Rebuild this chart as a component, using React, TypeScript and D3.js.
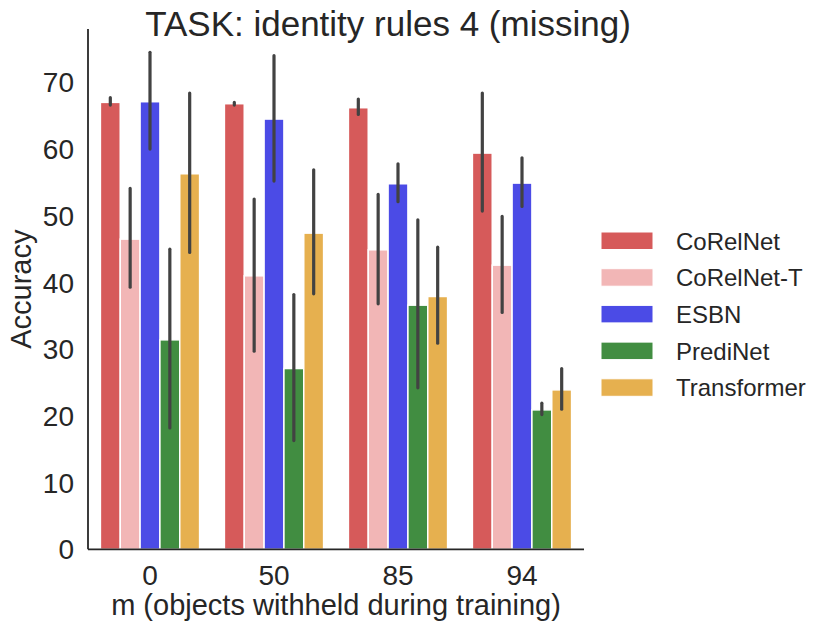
import React from "react";
import * as d3 from "d3";

const categories = ["0", "50", "85", "94"];
const models = ["CoRelNet", "CoRelNet-T", "ESBN", "PrediNet", "Transformer"];
const colors = ["#d65a5a", "#f2b6b6", "#4b4be6", "#418d41", "#e6b04f"];
const yTicks = [0, 10, 20, 30, 40, 50, 60, 70];

// values[model][category]
const means = [
  [67.0, 66.8, 66.2, 59.4],
  [46.5, 41.0, 44.9, 42.6],
  [67.1, 64.5, 54.8, 54.9],
  [31.4, 27.1, 36.6, 20.9],
  [56.3, 47.4, 37.9, 23.9],
];
const ciLow = [
  [66.6, 66.6, 65.2, 50.7],
  [39.3, 29.7, 36.8, 35.5],
  [60.0, 55.2, 52.1, 51.4],
  [18.2, 16.3, 24.2, 20.2],
  [44.5, 38.3, 30.9, 21.0],
];
const ciHigh = [
  [67.7, 67.0, 67.5, 68.4],
  [54.1, 52.5, 53.2, 49.9],
  [74.5, 74.0, 57.8, 58.7],
  [45.0, 38.2, 49.4, 21.9],
  [68.4, 56.9, 45.3, 27.1],
];

const W = 830;
const H = 633;
const left = 88;
const right = 584;
const top = 29;
const bottom = 549.3;
const textColor = "#262626";
const font = "'Liberation Sans', Arial, sans-serif";

export default function App() {
  const x = d3.scaleBand<string>().domain(categories).range([left, right]).padding(0);
  const inner = d3
    .scaleBand<string>()
    .domain(models)
    .range([0, x.bandwidth() * 0.8])
    .padding(0);
  const y = d3.scaleLinear().domain([0, 78]).range([bottom, top]);
  const offset = x.bandwidth() * 0.1;

  return (
    <svg
      width={W}
      height={H}
      style={{ position: "absolute", left: 0, top: 0, background: "#fff" }}
      fontFamily={font}
    >
      <text x={388} y={36} textAnchor="middle" fontSize={35} fill={textColor}>
        TASK: identity rules 4 (missing)
      </text>

      {models.map((m, mi) =>
        categories.map((c, ci) => {
          const bx = (x(c) as number) + offset + (inner(m) as number);
          const bw = inner.bandwidth();
          const v = means[mi][ci];
          return (
            <rect
              key={`b-${m}-${c}`}
              x={bx}
              y={y(v)}
              width={bw}
              height={y(0) - y(v)}
              fill={colors[mi]}
              stroke="#ffffff"
              strokeWidth={1.5}
            />
          );
        })
      )}
      {models.map((m, mi) =>
        categories.map((c, ci) => {
          const cx = (x(c) as number) + offset + (inner(m) as number) + inner.bandwidth() / 2;
          return (
            <line
              key={`e-${m}-${c}`}
              x1={cx}
              x2={cx}
              y1={y(ciLow[mi][ci])}
              y2={y(ciHigh[mi][ci])}
              stroke="#424242"
              strokeWidth={3.2}
              strokeLinecap="round"
            />
          );
        })
      )}

      {/* spines */}
      <line x1={left} x2={left} y1={top} y2={bottom} stroke={textColor} strokeWidth={1.8} />
      <line x1={left} x2={right} y1={bottom} y2={bottom} stroke={textColor} strokeWidth={1.8} />

      {yTicks.map((t) => (
        <text
          key={`yt-${t}`}
          x={74}
          y={y(t)}
          dy="0.36em"
          textAnchor="end"
          fontSize={28}
          fill={textColor}
        >
          {t}
        </text>
      ))}
      {categories.map((c) => (
        <text
          key={`xt-${c}`}
          x={(x(c) as number) + x.bandwidth() / 2}
          y={585}
          textAnchor="middle"
          fontSize={28}
          fill={textColor}
        >
          {c}
        </text>
      ))}

      <text x={336} y={615} textAnchor="middle" fontSize={29} fill={textColor}>
        m (objects withheld during training)
      </text>
      <text
        transform={`translate(31, ${(top + bottom) / 2}) rotate(-90)`}
        textAnchor="middle"
        fontSize={29}
        fill={textColor}
      >
        Accuracy
      </text>

      {models.map((m, i) => {
        const cy = 241 + i * 36.7;
        return (
          <g key={`lg-${m}`}>
            <rect
              x={601}
              y={cy - 9}
              width={52}
              height={17.5}
              fill={colors[i]}
              stroke="#ffffff"
              strokeWidth={1}
            />
            <text x={676} y={cy} dy="0.36em" fontSize={24} fill={textColor}>
              {m}
            </text>
          </g>
        );
      })}
    </svg>
  );
}
